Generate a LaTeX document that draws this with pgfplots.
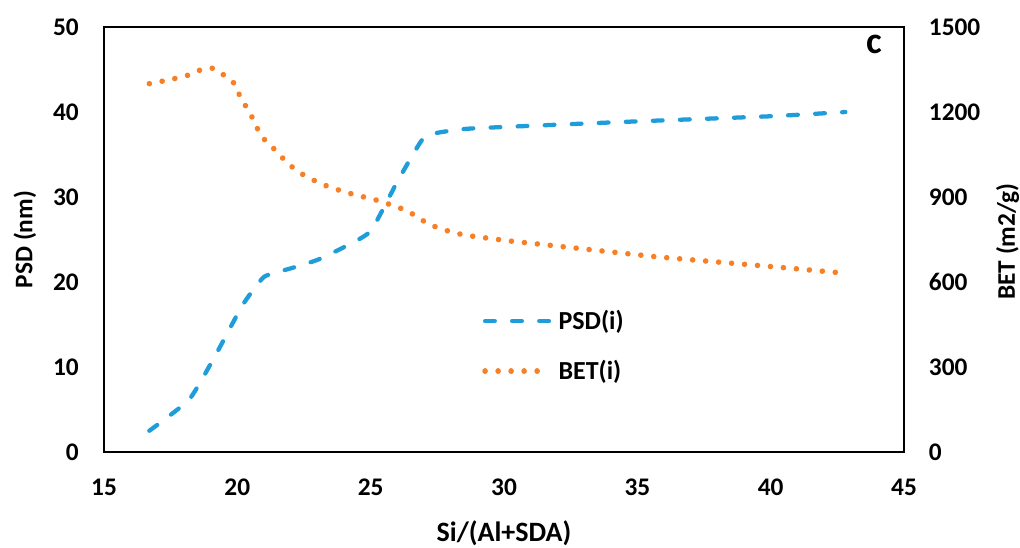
\documentclass[border=0pt]{standalone}
\usepackage{fontspec}
\setmainfont{Carlito}
\usepackage{pgfplots}
\pgfplotsset{compat=1.18}
\definecolor{psdblue}{RGB}{30,157,218}
\definecolor{betorange}{RGB}{247,128,38}
\newcommand{\lab}{\fontsize{19}{22}\selectfont\bfseries}
\newcommand{\titl}{\fontsize{21}{24}\selectfont\bfseries}
\newcommand{\ytitl}{\fontsize{19}{22}\selectfont\bfseries}
\newcommand{\leg}{\fontsize{19.5}{22}\selectfont\bfseries}
\pgfplotsset{
  psdlegend/.style={legend image code/.code={\draw[##1] (0pt,0pt) -- (53pt,0pt);}},
  betlegend/.style={legend image code/.code={\draw[##1] (0pt,0pt) -- (39.5pt,0pt); \path (53pt,0pt);}},
}
\begin{document}
\begin{tikzpicture}[x=0.75pt,y=0.75pt]
\useasboundingbox (-104,-95) rectangle (916,452);
\pgfplotsset{
  every axis/.append style={
    scale only axis, width=600pt, height=318.75pt,
    xmin=15, xmax=45,
    major tick length=0pt,
    axis line style={line width=2pt, black},
    /pgf/number format/assume math mode=true,
    /pgf/number format/1000 sep={},
    tick label style={font=\lab},
  },
}
\begin{axis}[
  ymin=0, ymax=50,
  xtick={15,20,...,45}, ytick={0,10,...,50},
  yticklabel style={anchor=east, inner sep=0pt, xshift=-18.75pt},
  xticklabel style={anchor=center, inner sep=0pt, yshift=-26.6pt},
  xlabel={Si/(Al+SDA)}, ylabel={PSD (nm)},
  every axis x label/.style={at={(axis description cs:0.5,-0.19)}, anchor=center, font=\titl},
  every axis y label/.style={at={(axis description cs:-0.099,0.5)}, anchor=center, rotate=90, font=\ytitl},
]
\addplot[psdblue, line width=3.2pt, line cap=round, line join=round,
  dash pattern=on 7.3pt off 13pt, smooth, tension=0.3] coordinates {
(16.7,2.5) (18.2,6.2) (19.2,11.5) (20.2,17.3) (21.0,20.6) (22.0,21.6)
(23.0,22.6) (24.0,24.1) (25.0,26.0) (26.0,31.8) (27.0,37.0) (28.0,37.8)
(29.0,38.1) (35.0,38.9) (40.0,39.5) (42.8,40.0)
};
\node[font=\fontsize{28}{30}\selectfont\bfseries, anchor=center] at (rel axis cs:0.9626,0.958) {c};
\end{axis}
\begin{axis}[
  ymin=0, ymax=1500,
  ytick={0,300,...,1500},
  axis y line*=right, axis x line=none,
  yticklabel style={anchor=west, inner sep=0pt, xshift=18.5pt},
  ylabel={BET (m2/g)},
  every axis y label/.style={at={(axis description cs:1.1296,0.495)}, anchor=center, rotate=90, font=\ytitl},
  legend style={draw=none, fill=none, at={(0.4725,0.249)}, anchor=west,
    inner sep=0pt, row sep=21.7pt, column sep=0pt, font=\leg,
    nodes={inner sep=0pt}},
  legend cell align=left,
]
\addlegendimage{psdblue, line width=3.2pt, line cap=round, dash pattern=on 7.3pt off 13pt, psdlegend}
\addlegendentry{PSD(i)}
\addplot[betorange, line width=4.2pt, line cap=round, line join=round,
  dash pattern=on 0.01pt off 9.75pt, betlegend] coordinates {
(16.7,1300) (17.2,1309) (17.7,1319) (18.2,1331) (18.6,1348) (19.1,1355)
(19.5,1330) (19.9,1300) (20.1,1255) (20.35,1215) (20.6,1174) (20.8,1131)
(21.1,1092) (21.5,1060) (21.8,1026) (22.2,995) (22.6,971) (23.1,949)
(23.5,933) (24.0,919) (24.5,905) (25.0,895) (25.5,881) (25.95,866)
(26.4,851) (26.8,825) (27.25,801) (27.75,784) (28.2,772) (28.7,763)
(29.2,757) (30.2,745) (35.7,689) (40.2,653) (42.8,631)
};
\addlegendentry{BET(i)}
\end{axis}
\end{tikzpicture}
\end{document}
